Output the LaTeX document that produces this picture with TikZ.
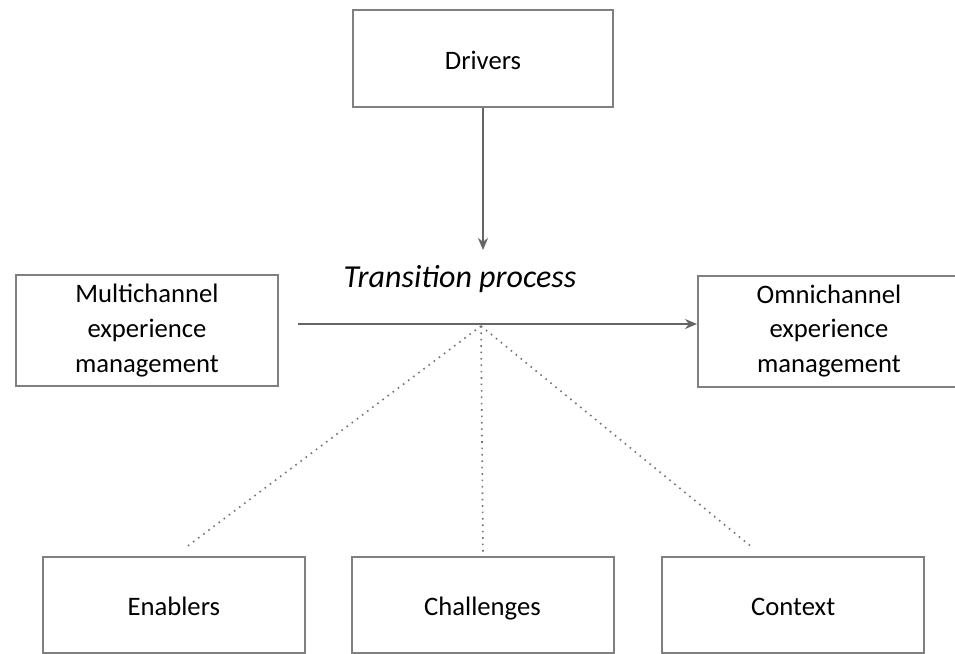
\documentclass[tikz,border=0pt]{standalone}
\usepackage{fontspec}
\setmainfont{Carlito}
\usetikzlibrary{arrows.meta,positioning,calc}

\begin{document}
\begin{tikzpicture}[x=0.75pt,y=-0.75pt,>={Stealth[length=9pt,width=7.5pt]},
  box/.style={rectangle,draw=black!50,line width=1.5pt,align=center,inner sep=0pt,
    minimum width=196.5pt,minimum height=72pt,font=\fontsize{20}{26}\selectfont},
  solo/.style={box,text height=17pt,text depth=1pt},
  link/.style={draw=black!60,line width=1.6pt},
  tie/.style={draw=black!55,line width=1.2pt,dash pattern=on 1.2pt off 3.6pt}]
\useasboundingbox (0,0) rectangle (955,653);
\clip (0,0) rectangle (955,653);

\node[solo,minimum width=195pt,minimum height=72.75pt] (drivers) at (483,58.5) {Drivers};
\node[box,minimum height=83.25pt] (multi) at (147,330.5) {Multichannel\\experience\\management};
\node[box,minimum height=83.25pt] (omni) at (829,331) {Omnichannel\\experience\\management};
\node[solo] (challenges) at (482.5,605) {Challenges};
\node[solo,left=33.5pt of challenges] (enablers) {Enablers};
\node[solo,right=35pt of challenges] (context) {Context};
\node[font=\fontsize{24}{29}\selectfont\itshape] (trans) at (460,279) {Transition process};

% where the flow and the dotted ties meet
\coordinate (hub) at (481,326);
\coordinate (drop) at (483,250);
\coordinate (enab-end) at (185,548);
\coordinate (chal-end) at (483,553);
\coordinate (cont-end) at (753,548);

\draw[link,->] (drivers.south) -- (drop);
\draw[link,->] ($(multi.east)+(19,-6.5)$) -- ($(omni.west)+(0,-7)$);

\draw[tie] (hub) -- (enab-end);
\draw[tie] (hub) -- (chal-end);
\draw[tie] (hub) -- (cont-end);
\end{tikzpicture}
\end{document}
